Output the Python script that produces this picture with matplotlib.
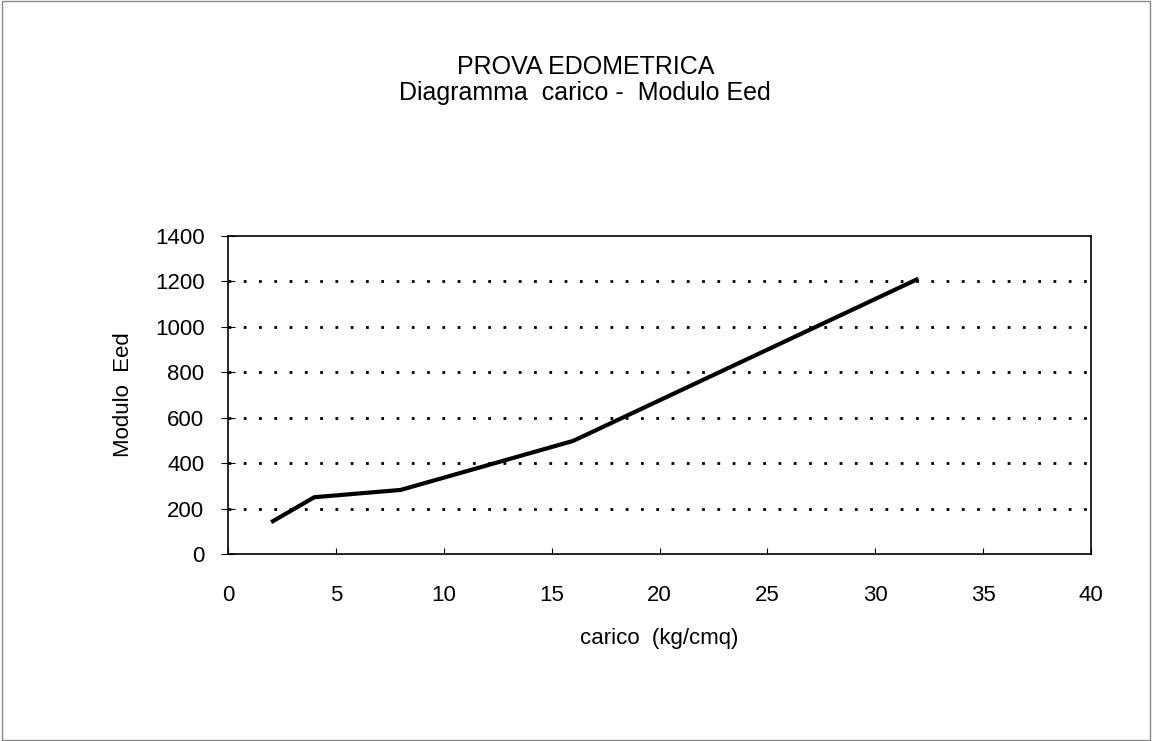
import matplotlib.pyplot as plt

# dati della prova edometrica
carico = [2, 4, 8, 16, 32]          # kg/cmq
modulo_eed = [140, 250, 282, 498, 1212]

plt.rcParams['font.family'] = ['Liberation Sans', 'DejaVu Sans']

fig = plt.figure(figsize=(11.52, 7.41), dpi=100)
ax = fig.add_axes([228 / 1152, 1 - 554 / 741, 863 / 1152, 318 / 741])

ax.plot(carico, modulo_eed, color='black', linewidth=3, solid_capstyle='butt')

ax.set_xlim(0, 40)
ax.set_ylim(0, 1400)
ax.set_xticks(range(0, 41, 5))
ax.set_yticks(range(0, 1401, 200))
ax.tick_params(axis='x', direction='in', length=4, labelsize=16, pad=22)
ax.tick_params(axis='y', direction='inout', length=10, labelsize=16, pad=12)
ax.yaxis.grid(True, linestyle=(0, (1, 4.5)), color='black', linewidth=2)
# niente griglia su 0 e 1400
glines = ax.get_ygridlines()
glines[0].set_visible(False)
glines[-1].set_visible(False)
for s in ax.spines.values():
    s.set_linewidth(1.2)

ax.set_xlabel('carico  (kg/cmq)', fontsize=16, labelpad=16)
ax.set_ylabel('Modulo  Eed', fontsize=16, labelpad=15)

fig.text(0.508, 0.909, 'PROVA EDOMETRICA', ha='center', va='center', fontsize=18)
fig.text(0.508, 0.874, 'Diagramma  carico -  Modulo Eed', ha='center', va='center', fontsize=18)

# cornice esterna
border = plt.Rectangle((0.002, 0.002), 0.996, 0.996, transform=fig.transFigure,
                       fill=False, edgecolor='#888888', linewidth=1)
fig.patches.append(border)

fig.savefig('out.png', dpi=100)
